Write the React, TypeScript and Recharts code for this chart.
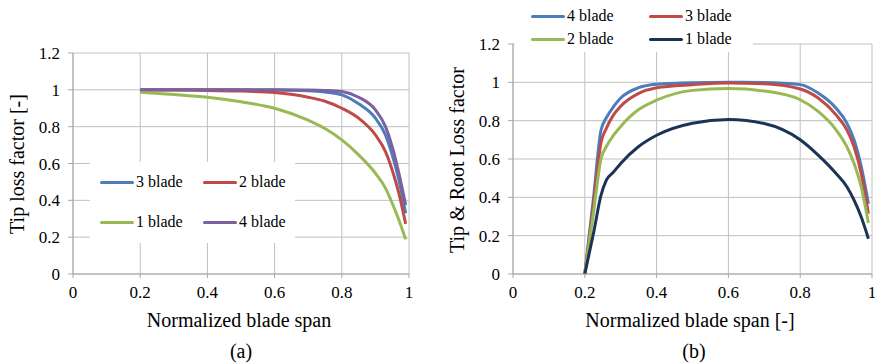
import React from 'react';
import { LineChart, Line, XAxis, YAxis, CartesianGrid, Legend } from 'recharts';

const FONT = '"Liberation Serif", "Times New Roman", serif';
const GRID = '#c0c0c0';
const AXIS = '#a6a6a6';

const BLUE = '#4a7ebb';
const RED = '#be4b48';
const GREEN = '#98b954';
const PURPLE = '#7d60a0';
const NAVY = '#1b3358';

// (a) tip loss factor along the span
const spanA = [0.2, 0.3, 0.4, 0.5, 0.6, 0.7, 0.75, 0.8, 0.85, 0.9, 0.93, 0.95, 0.97, 0.99];
const tipLoss3 = [1, 1, 1, 1, 0.999, 0.995, 0.988, 0.973, 0.924, 0.846, 0.755, 0.647, 0.511, 0.33];
const tipLoss2 = [0.999, 0.999, 0.997, 0.993, 0.985, 0.96, 0.938, 0.9, 0.846, 0.755, 0.665, 0.565, 0.438, 0.272];
const tipLoss1 = [0.987, 0.975, 0.96, 0.935, 0.9, 0.835, 0.79, 0.728, 0.647, 0.547, 0.466, 0.384, 0.293, 0.188];
const tipLoss4 = [1, 1, 1, 1, 1, 0.999, 0.997, 0.991, 0.96, 0.891, 0.8, 0.692, 0.547, 0.375];

// (b) combined tip & root loss factor
const spanB = [0.2, 0.225, 0.245, 0.26, 0.28, 0.3, 0.35, 0.4, 0.5, 0.6, 0.7, 0.8, 0.85, 0.9, 0.93, 0.95, 0.97, 0.99];
const rootTip4 = [0, 0.41, 0.75, 0.815, 0.873, 0.918, 0.972, 0.99, 0.998, 1, 0.999, 0.988, 0.944, 0.865, 0.787, 0.7, 0.56, 0.367];
const rootTip3 = [0, 0.376, 0.685, 0.76, 0.83, 0.875, 0.942, 0.972, 0.988, 0.997, 0.992, 0.965, 0.918, 0.83, 0.752, 0.664, 0.525, 0.315];
const rootTip2 = [0, 0.33, 0.6, 0.665, 0.724, 0.77, 0.858, 0.907, 0.958, 0.968, 0.955, 0.909, 0.848, 0.752, 0.664, 0.577, 0.455, 0.266];
const rootTip1 = [0, 0.22, 0.41, 0.49, 0.532, 0.577, 0.665, 0.724, 0.787, 0.806, 0.785, 0.7, 0.62, 0.524, 0.455, 0.385, 0.297, 0.184];

const xTicks = [0, 0.2, 0.4, 0.6, 0.8, 1];
const yTicks = [0, 0.2, 0.4, 0.6, 0.8, 1, 1.2];

const rowsA = spanA.map((x, i) => ({ x, b3: tipLoss3[i], b2: tipLoss2[i], b1: tipLoss1[i], b4: tipLoss4[i] }));
const rowsB = spanB.map((x, i) => ({ x, b4: rootTip4[i], b3: rootTip3[i], b2: rootTip2[i], b1: rootTip1[i] }));

const seriesA = [
  { key: 'b3', name: '3 blade', color: BLUE },
  { key: 'b2', name: '2 blade', color: RED },
  { key: 'b1', name: '1 blade', color: GREEN },
  { key: 'b4', name: '4 blade', color: PURPLE },
];
const seriesB = [
  { key: 'b4', name: '4 blade', color: BLUE },
  { key: 'b3', name: '3 blade', color: RED },
  { key: 'b2', name: '2 blade', color: GREEN },
  { key: 'b1', name: '1 blade', color: NAVY },
];

// legend item anchor points inside each white legend box
const slotsA: Record<string, [number, number]> = {
  '3 blade': [10, 20],
  '2 blade': [113, 20],
  '1 blade': [10, 60],
  '4 blade': [113, 60],
};
const slotsB: Record<string, [number, number]> = {
  '4 blade': [16, 16],
  '3 blade': [134, 16],
  '2 blade': [16, 39],
  '1 blade': [134, 39],
};

// serif tick labels; x ticks hang below the axis, y ticks are centred on the gridline
const XTick = ({ x, y, payload }: any) => (
  <text x={x} y={y} dy="0.71em" textAnchor="middle" fontFamily={FONT} fontSize={17} fill="#000">
    {String(payload.value)}
  </text>
);
const YTick = ({ x, y, payload }: any) => (
  <text x={x} y={y} dy="0.355em" textAnchor="end" fontFamily={FONT} fontSize={17} fill="#000">
    {String(payload.value)}
  </text>
);

const BladeLegend = ({ payload, slots }: any) => (
  <div style={{ position: 'relative', width: '100%', height: '100%', background: '#fff' }}>
    {(payload || []).map((p: any) => {
      const slot = slots[p.value];
      if (!slot) return null;
      return (
        <div
          key={p.value}
          style={{
            position: 'absolute',
            left: slot[0],
            top: slot[1],
            transform: 'translateY(-50%)',
            display: 'flex',
            alignItems: 'center',
            whiteSpace: 'nowrap',
            fontFamily: FONT,
            fontSize: 16,
            lineHeight: 1,
            color: '#000',
          }}
        >
          <span style={{ display: 'inline-block', width: 34, height: 3, borderRadius: 1.5, background: p.color, marginRight: 2 }} />
          {p.value}
        </div>
      );
    })}
  </div>
);

const LossChart = ({ rows, series, width, top, right, legendBox, slots }: any) => (
  <LineChart width={width} height={312} data={rows} margin={{ top, right, bottom: 0, left: 0 }}>
    <CartesianGrid stroke={GRID} strokeWidth={1} horizontalValues={yTicks} verticalValues={xTicks} />
    <XAxis
      dataKey="x"
      type="number"
      domain={[0, 1]}
      ticks={xTicks}
      interval={0}
      height={38}
      tickSize={4}
      tickMargin={8}
      stroke={AXIS}
      tick={<XTick />}
    />
    <YAxis
      type="number"
      domain={[0, 1.2]}
      ticks={yTicks}
      interval={0}
      width={73}
      tickSize={5}
      tickMargin={8}
      stroke={AXIS}
      tick={<YTick />}
    />
    <Legend
      layout="horizontal"
      verticalAlign="middle"
      align="center"
      wrapperStyle={legendBox}
      content={(props: any) => <BladeLegend payload={props.payload} slots={slots} />}
    />
    {series.map((s: any) => (
      <Line
        key={s.key}
        dataKey={s.key}
        name={s.name}
        type="monotone"
        stroke={s.color}
        strokeWidth={3}
        dot={false}
        activeDot={false}
        isAnimationActive={false}
      />
    ))}
  </LineChart>
);

export default function App() {
  return (
    <div style={{ position: 'absolute', left: 0, top: 0, width: 875, height: 364, background: '#fff', overflow: 'hidden' }}>
      <div style={{ position: 'absolute', left: 0, top: 0 }}>
        <LossChart
          rows={rowsA}
          series={seriesA}
          width={420}
          top={53}
          right={11}
          legendBox={{ left: 90, top: 162, width: 205, height: 81 }}
          slots={slotsA}
        />
      </div>
      <div style={{ position: 'absolute', left: 440, top: 0 }}>
        <LossChart
          rows={rowsB}
          series={seriesB}
          width={435}
          top={44}
          right={3}
          legendBox={{ left: 75, top: 0, width: 238, height: 52 }}
          slots={slotsB}
        />
      </div>
      <svg width={875} height={364} style={{ position: 'absolute', left: 0, top: 0, pointerEvents: 'none' }}>
        <g fontFamily={FONT} fill="#000" textAnchor="middle">
          <text x={24} y={164} fontSize={20} transform="rotate(-90 24 164)">Tip loss factor [-]</text>
          <text x={239} y={327} fontSize={20}>Normalized blade span</text>
          <text x={241} y={358} fontSize={20}>(a)</text>
          <text x={464} y={160} fontSize={20} transform="rotate(-90 464 160)">Tip &amp; Root Loss factor</text>
          <text x={690} y={327} fontSize={20}>Normalized blade span [-]</text>
          <text x={694} y={358} fontSize={20}>(b)</text>
        </g>
      </svg>
    </div>
  );
}
